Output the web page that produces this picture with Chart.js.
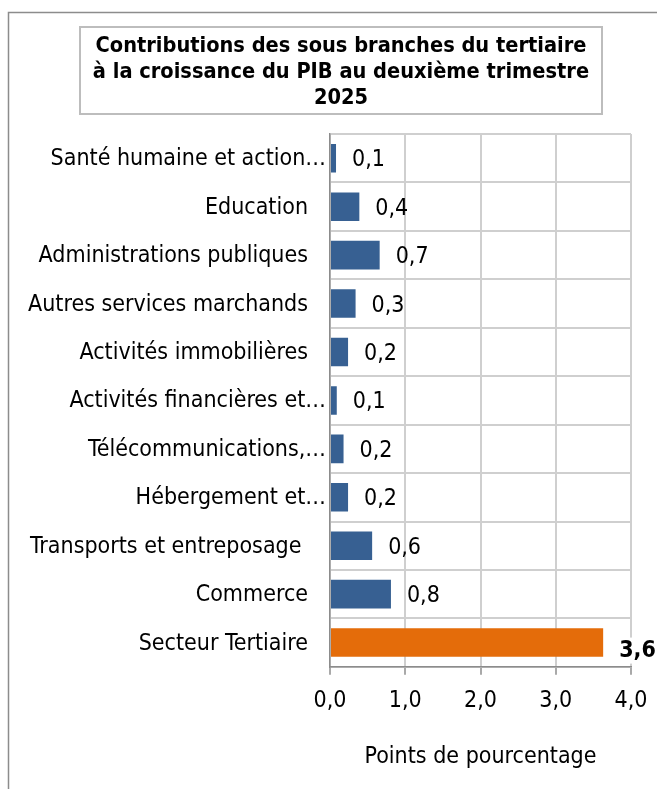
<!DOCTYPE html>
<html lang="fr">
<head>
<meta charset="utf-8">
<title>Contributions des sous branches du tertiaire</title>
<script src="https://cdn.jsdelivr.net/npm/chart.js@4.4.1/dist/chart.umd.min.js"></script>
<style>
    html, body { margin: 0; padding: 0; background: #fff; }
    #wrap { position: relative; width: 657px; height: 789px; }
</style>
</head>
<body>
<div id="wrap"><canvas id="graficoBarras" width="657" height="789"></canvas></div>
<script>
// Donnees
const categories = [
    'Santé humaine et action…',
    'Education',
    'Administrations publiques',
    'Autres services marchands',
    'Activités immobilières',
    'Activités financières et…',
    'Télécommunications,…',
    'Hébergement et…',
    'Transports et entreposage ',
    'Commerce',
    'Secteur Tertiaire'
];
const contributions = [0.08, 0.39, 0.66, 0.34, 0.24, 0.09, 0.18, 0.24, 0.56, 0.81, 3.63];
const tickValues = [0, 1, 2, 3, 4];
const titleLines = [
    'Contributions des sous branches du tertiaire',
    'à la croissance du PIB au deuxième trimestre',
    '2025'
];
const axisTitle = 'Points de pourcentage';

const FONT = '"DejaVu Sans Condensed", "DejaVu Sans", sans-serif';
const FS = 23;
const BLUE = '#376092';
const ORANGE = '#E46C0A';

function fmt(v) {
    return v.toFixed(1).replace('.', ',');
}

// cadre exterieur + cadre du titre
const frames = {
    id: 'frames',
    beforeDraw(chart) {
        const ctx = chart.ctx;
        ctx.save();
        ctx.strokeStyle = '#8C8C8C';
        ctx.lineWidth = 1.5;
        ctx.strokeRect(8.5, 12.5, 700, 800);
        ctx.strokeStyle = '#BDBDBD';
        ctx.lineWidth = 2;
        ctx.strokeRect(80, 27, 522, 87);
        ctx.restore();
    }
};

// libelles des categories (Excel decale ceux qui sont tronques)
const yLabels = {
    id: 'yLabels',
    afterDraw(chart) {
        const ctx = chart.ctx;
        const scale = chart.scales.y;
        ctx.save();
        ctx.font = FS + 'px ' + FONT;
        ctx.fillStyle = '#000';
        ctx.textAlign = 'right';
        ctx.textBaseline = 'middle';
        categories.forEach((c, i) => {
            const y = scale.getPixelForValue(i);
            const gap = c.endsWith('…') ? 4 : 22;
            ctx.fillText(c, chart.chartArea.left - gap, y + 1);
        });
        ctx.restore();
    }
};

// etiquettes de valeurs
const barLabels = {
    id: 'barLabels',
    afterDatasetsDraw(chart) {
        const ctx = chart.ctx;
        const meta = chart.getDatasetMeta(0);
        ctx.save();
        ctx.textBaseline = 'middle';
        ctx.textAlign = 'left';
        meta.data.forEach((bar, i) => {
            const last = i === contributions.length - 1;
            const txt = fmt(contributions[i]);
            ctx.font = (last ? 'bold ' : '') + FS + 'px ' + FONT;
            const x = bar.x + 16;
            const y = bar.y + (last ? 8 : 2);
            if (last) {
                const w = ctx.measureText(txt).width;
                ctx.fillStyle = '#fff';
                ctx.fillRect(x - 2, y - 13, w + 4, 26);
            }
            ctx.fillStyle = '#000';
            ctx.fillText(txt, x, y);
        });
        ctx.restore();
    }
};

const ctx1 = document.getElementById('graficoBarras').getContext('2d');
const chart1 = new Chart(ctx1, {
    type: 'bar',
    data: {
        labels: categories,
        datasets: [{
            data: contributions,
            backgroundColor: ctx => ctx.dataIndex === contributions.length - 1 ? ORANGE : BLUE,
            borderWidth: 0,
            categoryPercentage: 1,
            barPercentage: 0.59
        }]
    },
    options: {
        indexAxis: 'y',
        responsive: false,
        animation: false,
        layout: { padding: { left: 51, right: 26, top: 5, bottom: 18 } },
        scales: {
            x: {
                min: 0,
                max: 4,
                afterBuildTicks: scale => {
                    scale.ticks = tickValues.map(v => ({ value: v }));
                },
                afterFit: scale => {
                    scale.paddingLeft = 0;
                    scale.paddingRight = 0;
                },
                ticks: {
                    callback: v => fmt(v),
                    color: '#000',
                    font: { family: FONT, size: FS },
                    padding: 12,
                    maxRotation: 0
                },
                grid: {
                    color: '#CFCFCF',
                    lineWidth: 2,
                    tickLength: 8,
                    tickColor: '#8C8C8C',
                    tickWidth: 1.5
                },
                border: { color: '#8C8C8C', width: 1.5 },
                title: {
                    display: true,
                    text: axisTitle,
                    color: '#000',
                    font: { family: FONT, size: FS },
                    padding: { top: 17, bottom: 0 }
                }
            },
            y: {
                afterFit: scale => { scale.width = 279; },
                ticks: { display: false },
                grid: {
                    color: '#CFCFCF',
                    lineWidth: 2,
                    drawTicks: false
                },
                border: { color: '#8C8C8C', width: 1.5 }
            }
        },
        plugins: {
            legend: { display: false },
            tooltip: { enabled: false },
            title: {
                display: true,
                text: titleLines,
                color: '#000',
                font: { family: FONT, size: 21.6, weight: 'bold', lineHeight: 1.22 },
                padding: { top: 28, bottom: 22 }
            }
        }
    },
    plugins: [frames, yLabels, barLabels]
});
</script>
</body>
</html>
